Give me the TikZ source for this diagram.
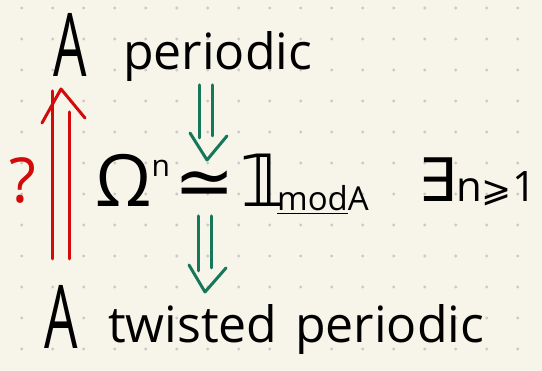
\documentclass[tikz,border=0pt]{standalone}
\usepackage{fontspec}
\setmainfont{Open Sans}
\newfontfamily\symfont{DejaVu Sans}
\usetikzlibrary{positioning, calc}
\definecolor{paper}{HTML}{F7F5E9}
\definecolor{gridDot}{HTML}{CACAC4}
\definecolor{penRed}{HTML}{D20A0A}
\definecolor{penGreen}{HTML}{16775A}

\begin{document}
\begin{tikzpicture}[x=1pt, y=1pt,
    hand/.style={inner sep=0pt, anchor=base west, text=black},
    redpen/.style={draw=penRed, line width=3pt, line cap=round, line join=round},
    greenpen/.style={draw=penGreen, line width=3pt, line cap=round, line join=round},
  ]
  \fill[paper] (0,0) rectangle (542,371);
  \useasboundingbox (0,0) rectangle (542,371);
  % dotted page
  \foreach \i in {0,...,16}
    \foreach \j in {0,...,11}
      \fill[gridDot] (21.7+31*\i, 363-31*\j) circle (1.6);

  % the three lines of writing
  \node[hand, font=\fontsize{88}{88}\selectfont] (Atop) at (53,294) {\scalebox{0.6}[1]{A}};
  \node[hand, font=\fontsize{50}{50}\selectfont] (pertop) at (123,301) {periodic};
  \node[hand, font=\fontsize{72}{72}\selectfont] (iso) at (95,164)
    {Ω\raisebox{30pt}{\fontsize{30}{30}\selectfont n}\hspace{5pt}{\symfont ≃}\hspace{5pt}{\symfont 𝟙}\hspace{-9pt}\raisebox{-4pt}{\fontsize{33}{33}\selectfont\underline{mod}A}};
  \node[hand, font=\fontsize{42}{42}\selectfont] (exists) at (418,169)
    {{\symfont\fontsize{60}{60}\selectfont ∃}n{\symfont\fontsize{36}{36}\selectfont ⩾}1};
  \node[hand, font=\fontsize{88}{88}\selectfont] (Abot) at (44,22) {\scalebox{0.6}[1]{A}};
  \node[hand, font=\fontsize{50}{50}\selectfont] (twisted) at (108,28) {twisted};
  \node[hand, font=\fontsize{50}{50}\selectfont] (perbot) at (295,28) {periodic};
  \node[hand, text=penRed, font=\fontsize{62}{62}\selectfont] (qmark) at (9,168) {?};

  % red: twisted periodic => periodic ?
  \coordinate (redtip) at (61,282);
  \draw[redpen] (52,112) -- (52,280);
  \draw[redpen] (69,112) -- (69,259);
  \draw[redpen] (42,248) -- (redtip) -- (85,253);

  % green: periodic => iso => twisted periodic
  \coordinate (greentip1) at (207,211);
  \draw[greenpen] (199,286) -- (199,233);
  \draw[greenpen] (212,286) -- (212,235);
  \draw[greenpen] (190,238) -- (greentip1) -- (227,235);

  \coordinate (greentip2) at (205,79);
  \draw[greenpen] (198,155) -- (198,100);
  \draw[greenpen] (211,155) -- (211,103);
  \draw[greenpen] (189,106) -- (greentip2) -- (226,103);
\end{tikzpicture}
\end{document}
